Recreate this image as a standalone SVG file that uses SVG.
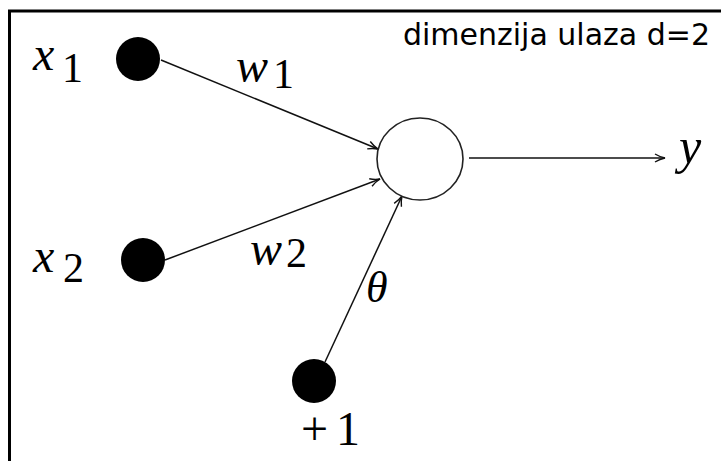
<svg xmlns="http://www.w3.org/2000/svg" width="721" height="461" viewBox="0 0 721 461">
<style>
.math{font-family:"Liberation Serif","DejaVu Serif",serif;font-style:italic;fill:#000}
.rm{font-family:"Liberation Serif","DejaVu Serif",serif;font-style:normal;fill:#000}
.dot{fill:#000}
.conn{stroke:#111;stroke-width:1.5;fill:none}
.title{font-family:"DejaVu Sans","Verdana",sans-serif;font-size:30px;fill:#000}
</style>
<defs>
<marker id="arr" viewBox="0 0 12 10" refX="11" refY="5" markerWidth="12" markerHeight="10" markerUnits="userSpaceOnUse" orient="auto">
<path d="M1,1 Q6,4 11,5 Q6,6 1,9" fill="none" stroke="#111" stroke-width="1.4"/>
</marker>
</defs>
<rect x="0" y="0" width="721" height="461" fill="#fff"/>
<rect x="9.5" y="11" width="760" height="500" fill="none" stroke="#000" stroke-width="3"/>
<text class="title" x="710" y="45" text-anchor="end">dimenzija ulaza d=2</text>
<g id="connectors">
<line class="conn" x1="161" y1="60" x2="378" y2="149" marker-end="url(#arr)"/>
<line class="conn" x1="165" y1="260" x2="380" y2="179" marker-end="url(#arr)"/>
<line class="conn" x1="325" y1="362" x2="402" y2="196" marker-end="url(#arr)"/>
<line class="conn" x1="469" y1="158" x2="665" y2="158" marker-end="url(#arr)"/>
</g>
<g id="x1"><circle class="dot" cx="138" cy="59" r="22"/>
<text class="math" x="33" y="70" font-size="48">x</text><text class="rm" x="62" y="82" font-size="42">1</text></g>
<g id="x2"><circle class="dot" cx="143" cy="260" r="22"/>
<text class="math" x="33" y="272" font-size="48">x</text><text class="rm" x="63" y="282" font-size="42">2</text></g>
<g id="bias"><circle class="dot" cx="314" cy="381" r="22"/>
<text class="rm" x="301" y="445" font-size="48">+<tspan dx="8">1</tspan></text></g>
<g id="neuron"><ellipse cx="420" cy="159" rx="43" ry="41" fill="#fff" stroke="#222" stroke-width="1.6"/></g>
<g id="labels">
<text class="math" x="236" y="82" font-size="48">w</text><text class="rm" x="273" y="88" font-size="42">1</text>
<text class="math" x="250" y="265" font-size="48">w</text><text class="rm" x="286" y="267" font-size="42">2</text>
<text class="math" x="366" y="302" font-size="44">θ</text>
<text class="math" x="679" y="163" font-size="50">y</text>
</g>
</svg>
